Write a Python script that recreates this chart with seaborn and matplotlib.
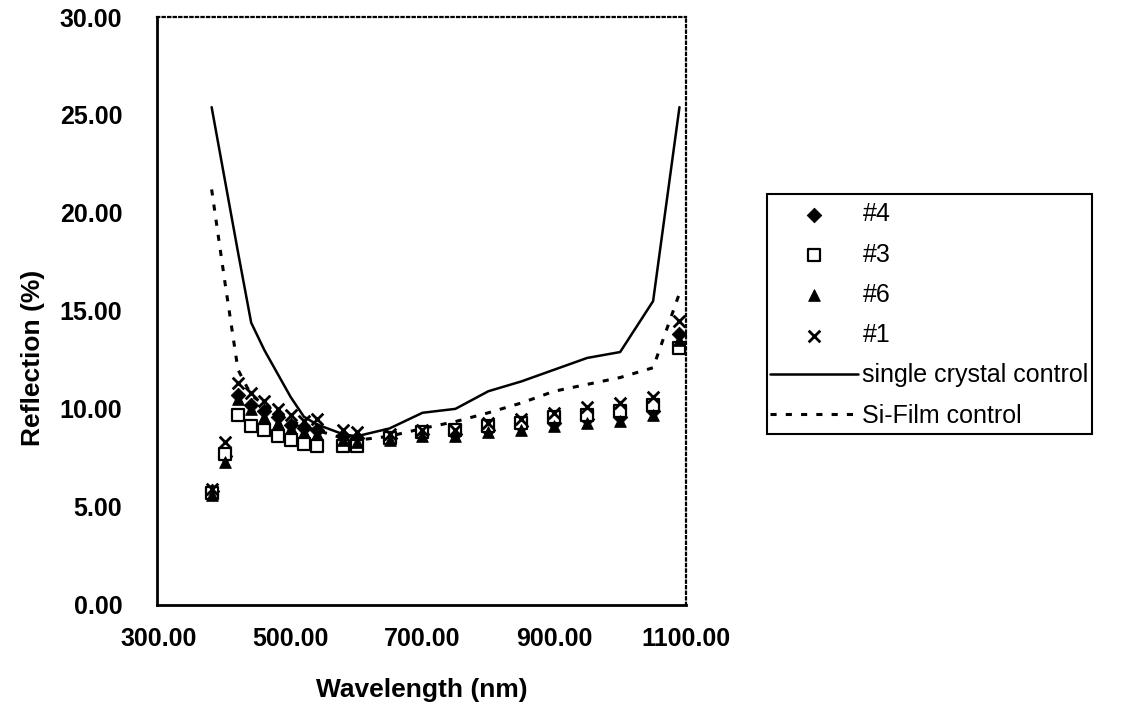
import pandas as pd
import matplotlib.pyplot as plt
import seaborn as sns
from matplotlib.patches import Rectangle

# wavelengths (nm) and reflection (%)
wavelength = [380, 400, 420, 440, 460, 480, 500, 520, 540, 580, 600,
              650, 700, 750, 800, 850, 900, 950, 1000, 1050, 1090]
s4 = [5.8, 7.6, 10.7, 10.2, 9.9, 9.6, 9.2, 9.0, 8.9, 8.6, 8.5,
      8.5, 8.7, 8.7, 8.9, 9.1, 9.3, 9.5, 9.6, 9.9, 13.8]
s3 = [5.7, 7.7, 9.7, 9.1, 8.9, 8.6, 8.4, 8.2, 8.1, 8.1, 8.1,
      8.5, 8.8, 8.9, 9.1, 9.3, 9.6, 9.7, 9.9, 10.2, 13.1]
s6 = [5.6, 7.3, 10.5, 10.0, 9.6, 9.3, 9.0, 8.8, 8.7, 8.4, 8.3,
      8.4, 8.6, 8.6, 8.8, 8.9, 9.1, 9.3, 9.4, 9.7, 13.5]
s1 = [5.9, 8.3, 11.3, 10.8, 10.4, 10.0, 9.7, 9.4, 9.5, 8.9, 8.8,
      8.7, 8.9, 8.9, 9.3, 9.5, 9.8, 10.1, 10.3, 10.6, 14.5]
single_crystal = [25.4, 21.7, 18.0, 14.4, 13.0, 11.8, 10.6, 9.6, 9.2, 8.7, 8.6,
                  9.0, 9.8, 10.0, 10.9, 11.4, 12.0, 12.6, 12.9, 15.5, 25.4]
si_film = [21.2, 16.5, 12.0, 10.7, 10.2, 9.8, 9.4, 9.1, 8.9, 8.5, 8.4,
           8.6, 9.0, 9.35, 9.8, 10.3, 10.9, 11.25, 11.6, 12.1, 15.9]

df = pd.DataFrame({'wl': wavelength, '#4': s4, '#3': s3, '#6': s6, '#1': s1,
                   'single crystal control': single_crystal,
                   'Si-Film control': si_film})

sns.set_theme(style="white")
plt.rcParams['font.family'] = ['Liberation Sans', 'DejaVu Sans']
plt.rcParams['text.color'] = 'black'
plt.rcParams['axes.labelcolor'] = 'black'
plt.rcParams['xtick.color'] = 'black'
plt.rcParams['ytick.color'] = 'black'

W, H = 1121, 709
fig = plt.figure(figsize=(W / 100, H / 100), dpi=100)
ax = fig.add_axes([0.140, 0.147, 0.472, 0.829])

sns.scatterplot(data=df, x='wl', y='#4', ax=ax, marker='D', s=55, color='black',
                edgecolor='black', label='#4', zorder=3)
sns.scatterplot(data=df, x='wl', y='#3', ax=ax, marker='s', s=70, facecolor='white',
                edgecolor='black', linewidth=1.6, label='#3', zorder=3)
sns.scatterplot(data=df, x='wl', y='#6', ax=ax, marker='^', s=70, color='black',
                edgecolor='black', label='#6', zorder=3)
sns.scatterplot(data=df, x='wl', y='#1', ax=ax, marker='x', s=70, color='black',
                linewidth=2, label='#1', zorder=3)
sns.lineplot(data=df, x='wl', y='single crystal control', ax=ax, color='black',
             linewidth=1.8, label='single crystal control')
sns.lineplot(data=df, x='wl', y='Si-Film control', ax=ax, color='black',
             linewidth=2.2, linestyle=(0, (2, 3)), label='Si-Film control')

ax.set_xlim(297, 1100)
ax.set_ylim(0, 30)
ax.set_xticks([300, 500, 700, 900, 1100])
ax.set_yticks([0, 5, 10, 15, 20, 25, 30])
ax.xaxis.set_major_formatter(lambda v, p: f'{v:.2f}')
ax.yaxis.set_major_formatter(lambda v, p: f'{v:.2f}')
ax.tick_params(direction='inout', length=10, width=1.5, color='black',
               labelsize=18)
ax.tick_params(axis='y', pad=20)
ax.tick_params(axis='x', pad=11)
for lab in ax.get_xticklabels() + ax.get_yticklabels():
    lab.set_fontweight('bold')

for side in ['left', 'bottom']:
    ax.spines[side].set_color('black')
    ax.spines[side].set_linewidth(2)
for side in ['top', 'right']:
    ax.spines[side].set_color('black')
    ax.spines[side].set_linewidth(1.6)
    ax.spines[side].set_linestyle((0, (1, 1.5)))

ax.set_xlabel('Wavelength (nm)', fontsize=19, fontweight='bold')
ax.set_ylabel('Reflection (%)', fontsize=19, fontweight='bold')
ax.xaxis.set_label_coords(0.5, -0.124)
ax.yaxis.set_label_coords(-0.212, 0.42)

handles, labels = ax.get_legend_handles_labels()
ax.get_legend().remove()

# legend frame drawn separately so its size can be set freely
fig.patches.append(Rectangle((767 / W, 1 - 434 / H), (1092 - 767) / W, (434 - 194) / H,
                             transform=fig.transFigure, fill=False,
                             edgecolor='black', linewidth=1.5))
fig.legend(handles, labels, loc='center left',
           bbox_to_anchor=(770 / W, 1 - 315 / H), bbox_transform=fig.transFigure,
           fontsize=18, frameon=False, handlelength=3.5, handletextpad=0.2,
           labelspacing=0.65, borderpad=0, borderaxespad=0)

plt.savefig('out.png', dpi=100)
